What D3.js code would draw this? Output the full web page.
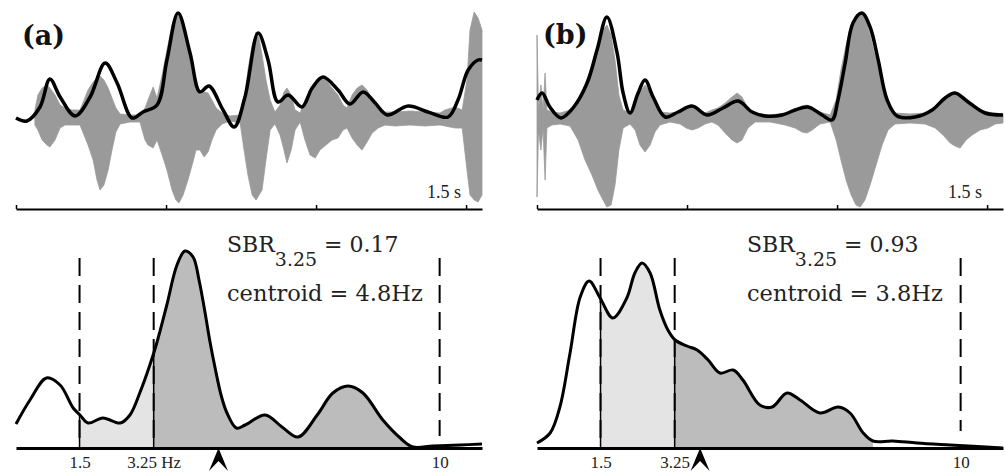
<!DOCTYPE html>
<html><head><meta charset="utf-8">
<script src="https://cdn.jsdelivr.net/npm/d3@7"></script>
<style>body{margin:0;background:#fff}</style>
</head><body><svg id="c" width="1005" height="475"></svg>
<script>
// ---------- DATA ----------
const panelLabels = ["(a)", "(b)"];
const timeTicks = [0, 0.5, 1, 1.5];
const timeLabel = "1.5 s";
const freqTicks = [1.5, 3.25, 10];
const freqTickLabelsA = ["1.5", "3.25 Hz", "10"];
const freqTickLabelsB = ["1.5", "3.25", "10"];
const dashedFreqs = [1.5, 3.25, 10];
const lowBand = [1.5, 3.25];
const highBandA = [3.25, 9.37];
const highBandB = [3.25, 7.93];
const centroidA = 4.78, centroidB = 3.85;
const sbrA = "0.17", sbrB = "0.93";
const centroidTextA = "4.8Hz", centroidTextB = "3.8Hz";

// waveform (a): time (s), upper / lower amplitude
const waveTimeA = [0.063,0.073,0.087,0.103,0.113,0.130,0.147,0.163,0.187,0.213,0.220,0.240,0.257,0.270,0.280,0.293,0.307,0.320,0.333,0.347,0.380,0.413,0.430,0.440,0.457,0.470,0.487,0.503,0.520,0.533,0.543,0.557,0.573,0.587,0.600,0.613,0.627,0.640,0.653,0.667,0.687,0.713,0.747,0.760,0.773,0.787,0.800,0.810,0.820,0.833,0.847,0.863,0.880,0.893,0.903,0.917,0.930,0.947,0.963,0.980,0.997,1.013,1.033,1.053,1.073,1.090,1.103,1.120,1.137,1.153,1.170,1.187,1.207,1.230,1.263,1.313,1.363,1.413,1.430,1.463,1.487,1.503,1.513,1.527,1.540,1.553];
const waveUpperA = [0.08,0.23,0.30,0.33,0.30,0.23,0.13,0.10,0.08,0.08,0.13,0.28,0.36,0.40,0.42,0.38,0.30,0.20,0.10,0.04,0.03,0.03,0.10,0.18,0.31,0.20,0.43,0.68,0.93,1.01,1.03,0.93,0.73,0.48,0.28,0.23,0.26,0.25,0.18,0.10,0.05,0.02,0.03,0.18,0.48,0.73,0.86,0.80,0.63,0.38,0.18,0.06,0.13,0.26,0.30,0.23,0.08,0.05,0.18,0.28,0.36,0.40,0.38,0.30,0.23,0.13,0.10,0.23,0.30,0.33,0.28,0.18,0.10,0.06,0.06,0.07,0.06,0.05,0.08,0.11,0.08,0.38,0.88,1.06,1.00,0.88];
const waveLowerA = [-0.07,-0.12,-0.22,-0.27,-0.29,-0.22,-0.10,-0.07,-0.07,-0.07,-0.12,-0.27,-0.42,-0.62,-0.72,-0.67,-0.52,-0.32,-0.14,-0.06,-0.04,-0.04,-0.22,-0.27,-0.30,-0.22,-0.37,-0.52,-0.72,-0.82,-0.85,-0.77,-0.62,-0.47,-0.32,-0.32,-0.39,-0.34,-0.22,-0.12,-0.06,-0.03,-0.05,-0.32,-0.57,-0.77,-0.82,-0.77,-0.72,-0.42,-0.12,-0.06,-0.17,-0.32,-0.45,-0.32,-0.12,-0.04,-0.22,-0.37,-0.40,-0.32,-0.27,-0.22,-0.20,-0.12,-0.10,-0.20,-0.27,-0.32,-0.24,-0.15,-0.10,-0.07,-0.08,-0.07,-0.08,-0.07,-0.08,-0.10,-0.10,-0.52,-0.77,-0.82,-0.84,-0.77];
// envelope (a)
const envTimeA = [0.000,0.036,0.080,0.113,0.147,0.197,0.247,0.297,0.337,0.387,0.423,0.470,0.503,0.540,0.580,0.613,0.643,0.690,0.727,0.763,0.807,0.840,0.873,0.907,0.953,0.987,1.023,1.073,1.113,1.157,1.197,1.237,1.307,1.373,1.440,1.473,1.507,1.540,1.553];
const envA = [0.00,-0.03,0.11,0.39,0.21,0.02,0.21,0.55,0.35,0.00,0.06,0.13,0.58,1.05,0.65,0.26,0.32,0.08,-0.09,0.21,0.85,0.58,0.16,0.23,0.11,0.30,0.41,0.28,0.14,0.26,0.15,0.03,0.12,0.06,0.01,0.18,0.48,0.58,0.58];

// waveform (b)
const waveTimeB = [0.000,0.005,0.013,0.020,0.027,0.033,0.050,0.077,0.110,0.137,0.160,0.183,0.203,0.220,0.233,0.247,0.260,0.273,0.287,0.310,0.327,0.343,0.360,0.377,0.393,0.410,0.443,0.477,0.497,0.517,0.537,0.560,0.583,0.603,0.627,0.650,0.667,0.683,0.703,0.727,0.777,0.827,0.860,0.883,0.900,0.917,0.943,0.977,0.997,1.013,1.030,1.047,1.063,1.077,1.093,1.110,1.130,1.150,1.170,1.193,1.243,1.293,1.327,1.353,1.377,1.393,1.410,1.430,1.450,1.477,1.503,1.527,1.553];
const waveUpperB = [0.83,0.08,0.33,0.08,0.45,0.08,0.06,0.05,0.08,0.18,0.33,0.53,0.73,0.88,0.93,0.83,0.58,0.23,0.08,0.05,0.13,0.26,0.33,0.26,0.13,0.06,0.05,0.06,0.10,0.12,0.10,0.05,0.08,0.10,0.15,0.21,0.25,0.21,0.10,0.05,0.03,0.05,0.08,0.12,0.13,0.10,0.06,0.03,0.18,0.48,0.73,0.93,1.03,1.06,1.00,0.83,0.58,0.33,0.13,0.05,0.04,0.05,0.10,0.18,0.23,0.26,0.23,0.18,0.13,0.08,0.06,0.05,0.04];
const waveLowerB = [-0.79,-0.12,-0.32,-0.10,-0.62,-0.10,-0.07,-0.06,-0.08,-0.22,-0.42,-0.57,-0.72,-0.82,-0.89,-0.87,-0.67,-0.32,-0.10,-0.06,-0.12,-0.27,-0.34,-0.27,-0.14,-0.07,-0.04,-0.06,-0.10,-0.12,-0.10,-0.06,-0.04,-0.07,-0.15,-0.22,-0.25,-0.22,-0.10,-0.04,-0.04,-0.07,-0.10,-0.14,-0.15,-0.12,-0.06,-0.04,-0.22,-0.42,-0.62,-0.77,-0.87,-0.89,-0.82,-0.67,-0.47,-0.27,-0.12,-0.06,-0.05,-0.06,-0.10,-0.17,-0.25,-0.28,-0.30,-0.22,-0.17,-0.12,-0.10,-0.06,-0.05];
// envelope (b)
const envTimeB = [0.000,0.017,0.043,0.080,0.120,0.167,0.200,0.233,0.267,0.287,0.310,0.337,0.360,0.387,0.427,0.470,0.517,0.567,0.620,0.670,0.717,0.760,0.817,0.860,0.903,0.950,0.983,1.003,1.027,1.053,1.083,1.110,1.137,1.167,1.200,1.260,1.317,1.360,1.393,1.437,1.493,1.553];
const envB = [0.18,0.25,0.11,0.00,0.10,0.35,0.68,1.01,0.65,0.25,0.05,0.25,0.38,0.21,0.01,0.06,0.12,0.03,0.10,0.17,0.06,0.02,0.03,0.08,0.11,0.03,-0.02,0.18,0.55,0.95,1.05,0.91,0.58,0.18,0.02,0.01,0.08,0.20,0.25,0.16,0.05,0.03];

// modulation spectra (Hz, relative power)
const specFreqA = [0.00,0.33,0.72,1.04,1.35,1.51,1.70,2.05,2.46,2.69,2.93,3.16,3.33,3.56,3.80,3.99,4.18,4.32,4.46,4.58,4.70,4.84,4.98,5.20,5.41,5.88,6.28,6.66,7.11,7.48,7.84,8.19,8.66,9.07,9.37,9.84,10.48,11.0];
const specA = [0.12,0.24,0.35,0.315,0.20,0.165,0.125,0.15,0.125,0.165,0.28,0.415,0.53,0.715,0.915,0.985,0.955,0.84,0.68,0.53,0.40,0.265,0.175,0.10,0.115,0.165,0.105,0.055,0.165,0.275,0.31,0.275,0.14,0.05,0.005,0.01,0.015,0.02];
const specFreqB = [0.00,0.31,0.54,0.78,1.02,1.23,1.49,1.79,2.12,2.31,2.48,2.67,2.90,3.09,3.26,3.54,3.78,4.04,4.32,4.63,4.86,5.26,5.55,5.90,6.21,6.68,7.11,7.39,7.70,7.93,8.40,8.97,9.75,11.0];
const specB = [0.025,0.075,0.205,0.475,0.755,0.835,0.75,0.65,0.75,0.875,0.925,0.875,0.69,0.59,0.54,0.51,0.49,0.44,0.375,0.39,0.34,0.215,0.205,0.275,0.24,0.175,0.205,0.175,0.075,0.035,0.035,0.025,0.015,0.0];

// ---------- DRAW ----------
const svg = d3.select("#c");
const serif = "'DejaVu Serif', serif";
const serif2 = "'Liberation Serif', serif";
const zip = (a, b) => a.map((v, i) => [v, b[i]]);

function panel(p) {
  const g = svg.append("g");
  // ---- top: waveform ----
  const xT = d3.scaleLinear([0, 1.553], [p.x0, p.x1]);
  const yT = d3.scaleLinear([-1, 1], [218, 18]);
  const wave = p.waveT.map((t, i) => ({t, u: p.waveU[i], l: p.waveL[i]}));
  g.append("path").datum(wave)
    .attr("d", d3.area().x(d => xT(d.t)).y0(d => yT(d.l)).y1(d => yT(d.u)))
    .attr("fill", "#9a9a9a").attr("stroke", "#9a9a9a").attr("stroke-width", 0.8);
  g.append("path").datum(zip(p.envT, p.env))
    .attr("d", d3.line().x(d => xT(d[0])).y(d => yT(d[1])).curve(d3.curveCatmullRom.alpha(0.5)))
    .attr("fill", "none").attr("stroke", "#000").attr("stroke-width", 3.5).attr("stroke-linejoin", "round");
  const ax = g.append("g").attr("transform", "translate(0,209)")
    .call(d3.axisTop(xT).tickValues(timeTicks).tickSize(4).tickSizeOuter(0).tickFormat(""));
  ax.select(".domain").attr("stroke", "#000").attr("stroke-width", 2);
  ax.selectAll(".tick line").attr("stroke", "#000").attr("stroke-width", 1.5);
  g.append("text").attr("x", xT(1.5) - 5).attr("y", 198).attr("text-anchor", "end")
    .attr("font-family", serif2).attr("font-size", 18).attr("fill", "#222").text(timeLabel);
  g.append("text").attr("x", p.labX).attr("y", p.labY)
    .attr("font-family", serif).attr("font-weight", "bold").attr("font-size", 27).attr("fill", "#111").text(p.label);

  // ---- bottom: spectrum ----
  const xF = d3.scaleLinear([0, 11], [p.x0, p.x1]);
  const yF = d3.scaleLinear([0, 1], [448, 248]);
  const spec = zip(p.specF, p.spec);
  const curve = d3.curveCatmullRom.alpha(0.5);
  const areaGen = d3.area().x(d => xF(d[0])).y0(yF(0)).y1(d => yF(d[1])).curve(curve);
  const lineGen = d3.line().x(d => xF(d[0])).y(d => yF(d[1])).curve(curve);
  const id = p.id;
  const defs = svg.append("defs");
  [["lo", lowBand], ["hi", p.hiBand]].forEach(([k, b]) => {
    defs.append("clipPath").attr("id", id + k).append("rect")
      .attr("x", xF(b[0])).attr("y", 200).attr("width", xF(b[1]) - xF(b[0])).attr("height", 260);
  });
  defs.append("clipPath").attr("id", id + "under").append("path").attr("d", areaGen(spec));
  g.append("path").attr("d", areaGen(spec)).attr("fill", "#e4e4e4").attr("clip-path", `url(#${id}lo)`);
  g.append("path").attr("d", areaGen(spec)).attr("fill", "#bcbcbc").attr("clip-path", `url(#${id}hi)`);
  // solid band edges under curve
  g.append("g").attr("clip-path", `url(#${id}under)`).selectAll("line").data(lowBand).join("line")
    .attr("x1", d => xF(d)).attr("x2", d => xF(d)).attr("y1", 250).attr("y2", 448)
    .attr("stroke", "#000").attr("stroke-width", 1.5);
  // dashed markers
  g.selectAll(".dash").data(dashedFreqs).join("line")
    .attr("x1", d => xF(d)).attr("x2", d => xF(d)).attr("y1", 258).attr("y2", d => d === 10 ? p.tenEnd : 446)
    .attr("stroke", "#000").attr("stroke-width", 2).attr("stroke-dasharray", "18,9");
  g.append("path").attr("d", lineGen(spec)).attr("fill", "none").attr("stroke", "#000")
    .attr("stroke-width", 3).attr("stroke-linejoin", "round");
  const bx = g.append("g").attr("transform", "translate(0,448)")
    .call(d3.axisBottom(xF).tickValues(freqTicks).tickSize(0).tickSizeOuter(0).tickPadding(8)
      .tickFormat((d, i) => p.tickLabels[i]));
  bx.select(".domain").attr("stroke", "#000").attr("stroke-width", 2.8);
  bx.selectAll(".tick text").attr("font-family", serif2).attr("font-size", 17).attr("fill", "#222");
  // centroid arrow
  const cx = xF(p.centroid);
  g.append("path").attr("d", `M${cx},448 L${cx + 9.5},471 L${cx},461 L${cx - 9.5},471 Z`).attr("fill", "#000");
  // text
  const t1 = g.append("text").attr("x", p.txtX).attr("y", 252).attr("font-family", serif)
    .attr("font-size", 22).attr("fill", "#222");
  t1.append("tspan").text("SBR");
  t1.append("tspan").attr("dy", 14).attr("font-size", 19).text("3.25");
  t1.append("tspan").attr("dy", -14).text(" = " + p.sbr);
  g.append("text").attr("x", p.txtX).attr("y", 301).attr("font-family", serif)
    .attr("font-size", 22.5).attr("fill", "#222").text("centroid = " + p.centText);
}

panel({id: "a", x0: 16, x1: 482, label: panelLabels[0], labX: 22, labY: 45, tenEnd: 436,
  waveT: waveTimeA, waveU: waveUpperA, waveL: waveLowerA, envT: envTimeA, env: envA,
  specF: specFreqA, spec: specA, hiBand: highBandA, tickLabels: freqTickLabelsA,
  centroid: centroidA, sbr: sbrA, centText: centroidTextA, txtX: 227});
panel({id: "b", x0: 537, x1: 1003, label: panelLabels[1], labX: 543, labY: 44, tenEnd: 431,
  waveT: waveTimeB, waveU: waveUpperB, waveL: waveLowerB, envT: envTimeB, env: envB,
  specF: specFreqB, spec: specB, hiBand: highBandB, tickLabels: freqTickLabelsB,
  centroid: centroidB, sbr: sbrB, centText: centroidTextB, txtX: 747});
</script></body></html>
